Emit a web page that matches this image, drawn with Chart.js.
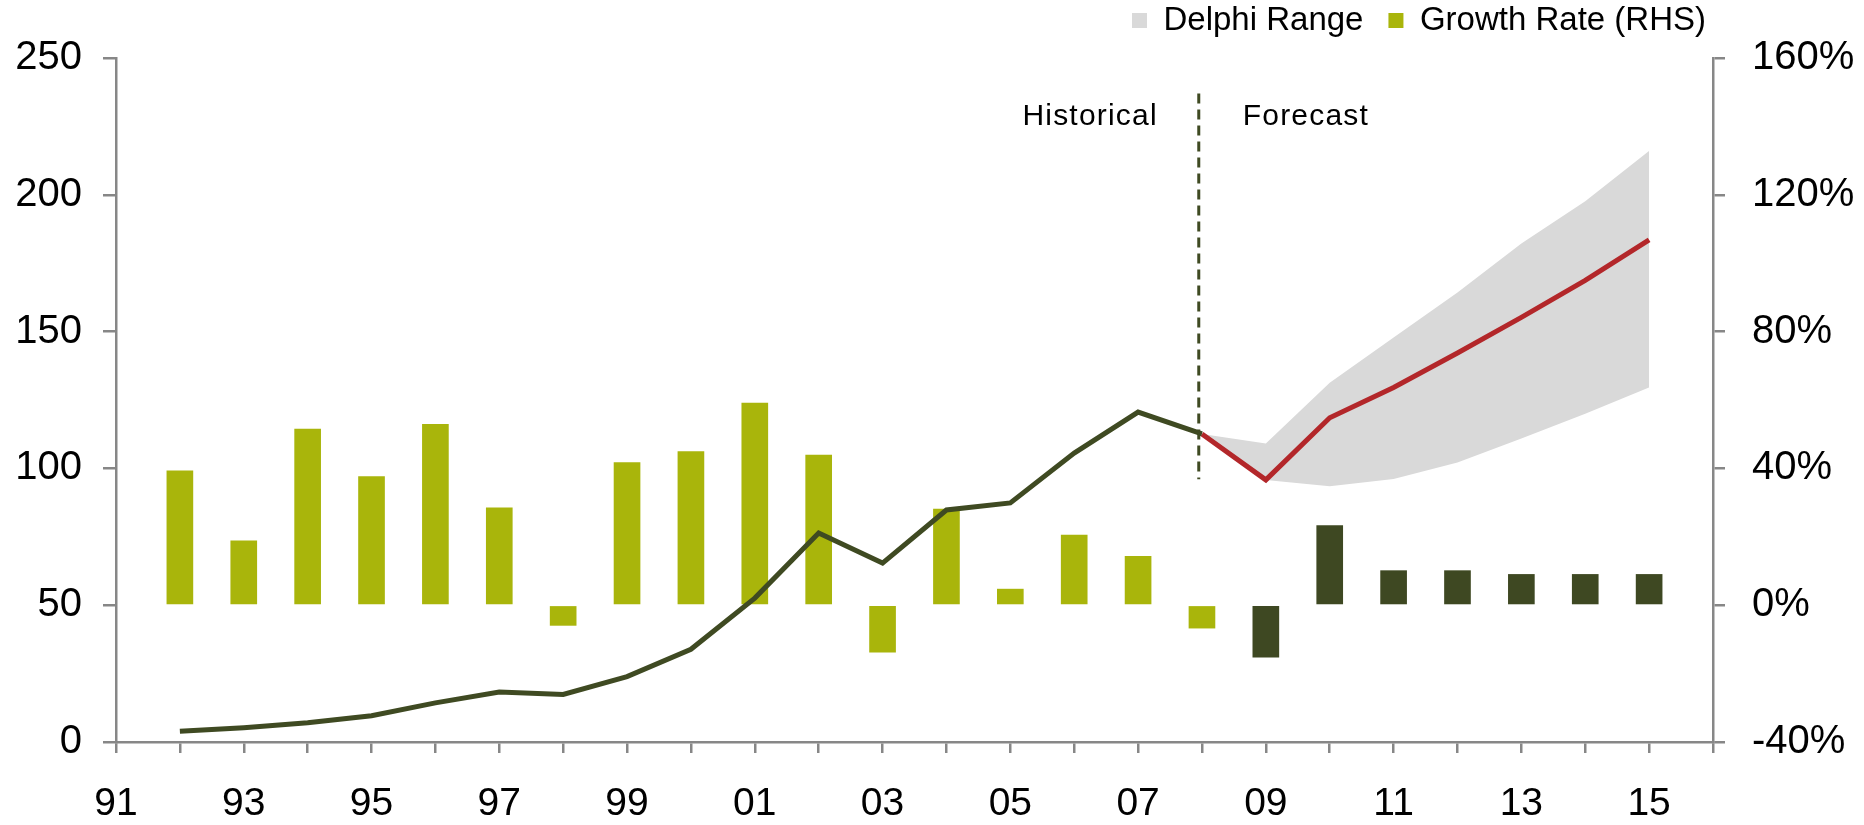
<!DOCTYPE html>
<html><head><meta charset="utf-8">
<script src="https://cdn.jsdelivr.net/npm/chart.js@4.4.1/dist/chart.umd.min.js"></script>
<style>html,body{margin:0;padding:0;background:#fff;}canvas{display:block;}</style>
</head><body>
<canvas id="c" width="1864" height="825"></canvas>
<script>
// ---- data ----
const yearsHist = [1992,1993,1994,1995,1996,1997,1998,1999,2000,2001,2002,2003,2004,2005,2006,2007,2008];
const lineHist  = [3.9,5.2,7.0,9.6,14.3,18.3,17.4,23.9,33.9,52.6,76.4,65.4,84.8,87.4,105.6,120.6,112.6];
const yearsFcst = [2008,2009,2010,2011,2012,2013,2014,2015];
const lineFcst  = [112.6,95.8,118.5,129.6,142.2,155.2,168.7,183.5];
const rangeHigh = [112.6,109.1,131.3,147.8,164.3,182.2,197.6,216.0];
const rangeLow  = [112.6,95.8,93.5,96.1,102.2,110.9,120.0,129.6];
const growthHist = [39.3,18.8,51.5,37.6,52.9,28.5,-5.9,41.7,44.9,59.1,43.9,-13.7,28.1,4.7,20.5,14.3,-6.7];
const growthYearsFcst = [2009,2010,2011,2012,2013,2014,2015];
const growthFcst = [-15.2,23.3,10.1,10.1,9.0,9.0,9.0];
const dividerX = [2007.95,2007.95];
const dividerY = [237,96];
const labelTextY = 225.5;
const xLabelYears = [1991,1993,1995,1997,1999,2001,2003,2005,2007,2009,2011,2013,2015];
const leftTicks = {min:0, max:250, step:50};
const rightTicks = {min:-40, max:160, step:40};

const pts = (xs, ys) => xs.map((x,i)=>({x:x, y:ys[i]}));

const FONT = '"Liberation Sans", Arial, sans-serif';
Chart.defaults.font.family = FONT;
Chart.defaults.color = '#000';
const AXIS = '#878787';

const annot = {
  id:'annot',
  afterLayout(chart){
    const lg = chart.legend; if(!lg) return;
    const h = lg.height;
    lg.top = -21; lg.bottom = lg.top + h;
    lg.right = 1731;
  },
  afterDatasetsDraw(chart){
    const {ctx, scales:{x, y}} = chart;
    const px = x.getPixelForValue(dividerX[0]);
    const py = y.getPixelForValue(labelTextY);
    ctx.save();
    ctx.font = '30px ' + FONT;
    try { ctx.letterSpacing = '1.2px'; } catch(e) {}
    ctx.fillStyle = '#000';
    ctx.textBaseline = 'alphabetic';
    ctx.textAlign = 'right';
    ctx.fillText('Historical', px - 41, py);
    ctx.textAlign = 'left';
    ctx.fillText('Forecast', px + 44, py);
    ctx.restore();
  }
};

new Chart(document.getElementById('c'), {
  type: 'line',
  data: {
    datasets: [
      {label:'Delphi Range', data: pts(yearsFcst, rangeHigh), yAxisID:'y', fill:'+1',
       backgroundColor:'#D9D9D9', borderColor:'rgba(0,0,0,0)', borderWidth:0, pointRadius:0, order:10},
      {label:'range low', data: pts(yearsFcst, rangeLow), yAxisID:'y', fill:false,
       backgroundColor:'#D9D9D9', borderColor:'rgba(0,0,0,0)', borderWidth:0, pointRadius:0, order:10},
      {type:'bar', label:'Growth Rate (RHS)', data: pts(yearsHist, growthHist), yAxisID:'y2',
       backgroundColor:'#A9B50B', barThickness:26, grouped:false, order:5},
      {type:'bar', label:'growth forecast', data: pts(growthYearsFcst, growthFcst), yAxisID:'y2',
       backgroundColor:'#3E4822', barThickness:26, grouped:false, order:5},
      {label:'history', data: pts(yearsHist, lineHist), yAxisID:'y', borderColor:'#3F4A22',
       borderWidth:5, pointRadius:0, fill:false, order:1, tension:0},
      {label:'forecast', data: pts(yearsFcst, lineFcst), yAxisID:'y', borderColor:'#B3272A',
       borderWidth:5, pointRadius:0, fill:false, order:1, tension:0},
      {label:'divider', data: pts(dividerX, dividerY), yAxisID:'y', borderColor:'#3F4A22',
       borderWidth:3, borderDash:[10,6], pointRadius:0, fill:false, order:2}
    ]
  },
  options: {
    responsive:false, animation:false,
    layout:{padding:{top:-10, left:0, right:0, bottom:0}},
    plugins:{
      legend:{display:true, position:'top', align:'end',
        labels:{boxWidth:15, boxHeight:15, padding:25, font:{size:33}, color:'#000',
          sort:(a,b)=> a.datasetIndex - b.datasetIndex,
          filter:(it)=> it.text==='Delphi Range' || it.text==='Growth Rate (RHS)'}},
      tooltip:{enabled:false}
    },
    scales:{
      x:{type:'linear', position:'bottom', min:1991, max:2016, offset:false,
        grid:{display:true, drawOnChartArea:false, drawTicks:true, tickLength:11, color:AXIS, lineWidth:2.5, offset:false},
        border:{display:true, color:AXIS, width:2.5},
        ticks:{stepSize:1, autoSkip:false, maxRotation:0, minRotation:0, padding:28, font:{size:39}, color:'#000',
          callback:(v)=> xLabelYears.includes(v) ? String(v%100).padStart(2,'0') : ''},
        afterFit:(s)=>{ s.height = 83; }
      },
      y:{type:'linear', position:'left', min:leftTicks.min, max:leftTicks.max,
        grid:{display:true, drawOnChartArea:false, drawTicks:true, tickLength:13, color:AXIS, lineWidth:2.5},
        border:{display:true, color:AXIS, width:2.5},
        ticks:{stepSize:leftTicks.step, padding:21, font:{size:40}, color:'#000'},
        afterFit:(s)=>{ s.width = 116; }
      },
      y2:{type:'linear', position:'right', min:rightTicks.min, max:rightTicks.max,
        grid:{display:true, drawOnChartArea:false, drawTicks:true, tickLength:12, color:AXIS, lineWidth:2.5},
        border:{display:true, color:AXIS, width:2.5},
        ticks:{stepSize:rightTicks.step, padding:27, font:{size:40}, color:'#000', callback:(v)=> v + '%'},
        afterFit:(s)=>{ s.width = 151; }
      }
    }
  },
  plugins:[annot]
});
</script>
</body></html>
